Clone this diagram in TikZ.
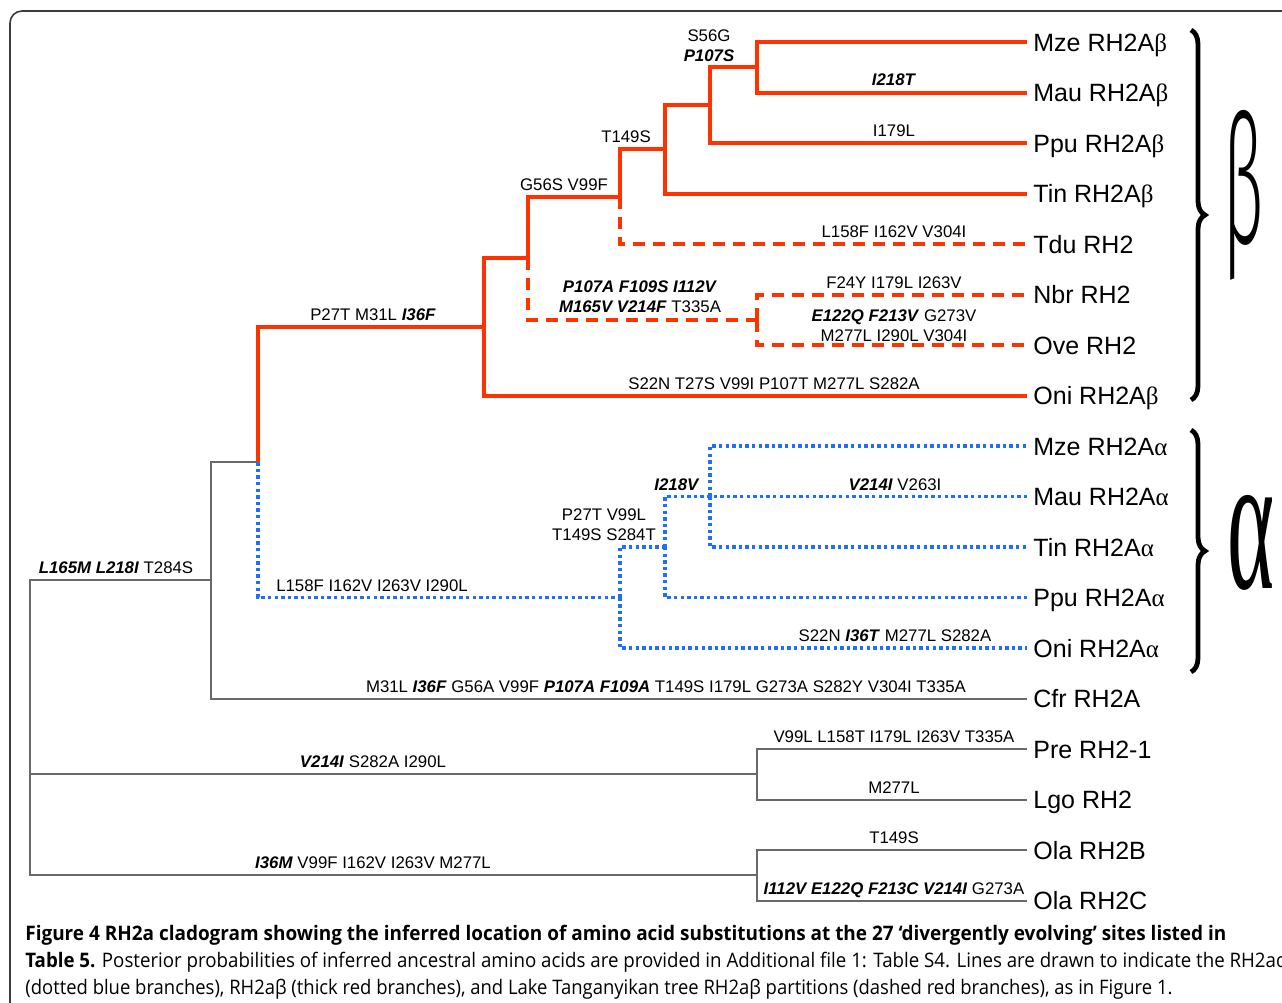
\documentclass[tikz,border=0pt]{standalone}
\usepackage{fontspec}
\setmainfont{Liberation Sans}
\newfontfamily\capfont{Open Sans}
\newfontfamily\grk{Liberation Serif}
\newfontfamily\thingrk[UprightFont=* Light]{Fira Sans}
\usepackage{graphicx}
\usetikzlibrary{decorations.pathreplacing}
\definecolor{redbr}{RGB}{255,51,0}
\definecolor{bluebr}{RGB}{30,110,255}
\definecolor{graybr}{RGB}{105,105,105}
\definecolor{framecol}{RGB}{60,60,60}
\newcommand\bim[1]{\textbf{\textit{#1}}}

\begin{document}
\begin{tikzpicture}[x=0.5pt, y=-0.5pt,
    betaline/.style={draw=redbr, line width=2pt},
    tduline/.style={draw=redbr, line width=2pt, dash pattern=on 6pt off 4pt},
    alphaline/.style={draw=bluebr, line width=1.8pt, dash pattern=on 1.7pt off 1.6pt},
    outline/.style={draw=graybr, line width=1pt},
    leaf/.style={anchor=west, inner sep=3pt, text height=9pt, text depth=0pt, font=\fontsize{12.5}{15}\selectfont},
    mut/.style={inner sep=0pt, text height=6pt, text depth=0pt, font=\fontsize{8.4}{10}\selectfont},
    grpbrace/.style={decorate, decoration={brace, amplitude=7pt}, line width=2.4pt},
    capline/.style={anchor=base west, inner sep=0pt, font=\capfont\fontsize{10}{12}\selectfont}]
  \useasboundingbox (0,0) rectangle (1282,1003);

  %%%%% frame %%%%%
  \draw[framecol, line width=0.8pt, rounded corners=6pt] (10,1010) -- (10,11) -- (1290,11);

  %%%%% leaves %%%%%
  \foreach \nm/\txt [count=\i from 0] in {mzeb/Mze RH2A{\grk β}, maub/Mau RH2A{\grk β}, ppub/Ppu RH2A{\grk β},
      tinb/Tin RH2A{\grk β}, tdu/Tdu RH2, nbr/Nbr RH2, ove/Ove RH2, onib/Oni RH2A{\grk β},
      mzea/Mze RH2A{\grk α}, maua/Mau RH2A{\grk α}, tina/Tin RH2A{\grk α}, ppua/Ppu RH2A{\grk α},
      onia/Oni RH2A{\grk α}, cfr/Cfr RH2A, pre/Pre RH2-1, lgo/Lgo RH2, olab/Ola RH2B, olac/Ola RH2C}
    \node[leaf] (\nm) at (1027,{42+50.5*\i}) {\txt};

  %%%%% internal nodes %%%%%
  \coordinate (nA) at (757,67.25);
  \coordinate (nB) at (710,105.1);
  \coordinate (nC) at (665,149.3);
  \coordinate (nD) at (620,196.7);
  \coordinate (nE) at (757,319.75);
  \coordinate (nF) at (528,258.2);
  \coordinate (nG) at (484,326.9);
  \coordinate (nH) at (258,462.2);
  \coordinate (nI) at (620,597.5);
  \coordinate (nJ) at (665,547);
  \coordinate (nK) at (710,496.5);
  \coordinate (nL) at (211,580.4);
  \coordinate (nM) at (757,774.25);
  \coordinate (nN) at (757,875.25);
  \coordinate (root) at (30,774.25);

  %%%%% RH2A beta %%%%%
  \draw[betaline] (nA) |- (mzeb);
  \draw[betaline] (nA) |- (maub);
  \draw[betaline] (nB) |- (nA);
  \draw[betaline] (nB) |- (ppub);
  \draw[betaline] (nC) |- (nB);
  \draw[betaline] (nC) |- (tinb);
  \draw[betaline] (nD) |- (nC);
  \draw[tduline] (nD) |- (tdu);
  \draw[tduline] (nE) |- (nbr);
  \draw[tduline] (nE) |- (ove);
  \draw[betaline] (nF) |- (nD);
  \draw[tduline] (nF) |- (nE);
  \draw[betaline] (nG) |- (nF);
  \draw[betaline] (nG) |- (onib);
  \draw[betaline] (nH) |- (nG);

  %%%%% RH2A alpha %%%%%
  \draw[alphaline] (nH) |- (nI);
  \draw[alphaline] (nI) |- (nJ);
  \draw[alphaline] (nI) |- (onia);
  \draw[alphaline] (nJ) |- (maua);
  \draw[alphaline] (nJ) |- (ppua);
  \draw[alphaline] (nK) |- (mzea);
  \draw[alphaline] (nK) |- (tina);

  %%%%% outgroups %%%%%
  \draw[outline] (nL) |- (nH);
  \draw[outline] (nL) |- (cfr);
  \draw[outline] (root) |- (nL);
  \draw[outline] (root) -- (nM);
  \draw[outline] (root) |- (nN);
  \draw[outline] (nM) |- (pre);
  \draw[outline] (nM) |- (lgo);
  \draw[outline] (nN) |- (olab);
  \draw[outline] (nN) |- (olac);

  %%%%% substitutions %%%%%
  \node[mut] (mS56G) at (709,35) {S56G};
  \node[mut] (mP107S) at (709,55) {\bim{P107S}};
  \node[mut] (mI218T) at (894,79) {\bim{I218T}};
  \node[mut] (mI179L) at (894,130) {I179L};
  \node[mut] (mT149S) at (626,136) {T149S};
  \node[mut] (mG56S) at (564,184) {G56S V99F};
  \node[mut] (mL158F) at (894,231) {L158F I162V V304I};
  \node[mut] (mP107A) at (640,286) {\bim{P107A F109S I112V}};
  \node[mut] (mM165V) at (640,306) {\bim{M165V V214F} T335A};
  \node[mut] (mF24Y) at (894,282) {F24Y I179L I263V};
  \node[mut] (mE122Q) at (894,315) {\bim{E122Q F213V} G273V};
  \node[mut] (mM277L) at (894,335) {M277L I290L V304I};
  \node[mut] (mP27T) at (373,314) {P27T M31L \bim{I36F}};
  \node[mut] (mS22N) at (774,383) {S22N T27S V99I P107T M277L S282A};
  \node[mut] (mI218V) at (677,484) {\bim{I218V}};
  \node[mut] (mV214I) at (895,484) {\bim{V214I} V263I};
  \node[mut] (mP27Tb) at (604,514) {P27T V99L};
  \node[mut] (mT149Sb) at (604,534) {T149S S284T};
  \node[mut] (mL158Fb) at (372,585) {L158F I162V I263V I290L};
  \node[mut] (mS22Nb) at (895,635) {S22N \bim{I36T} M277L S282A};
  \node[mut] (mM31L) at (666,686) {M31L \bim{I36F} G56A V99F \bim{P107A F109A} T149S I179L G273A S282Y V304I T335A};
  \node[mut] (mV99L) at (894,736) {V99L L158T I179L I263V T335A};
  \node[mut] (mM277Lb) at (894,787) {M277L};
  \node[mut] (mT149Sc) at (894,837) {T149S};
  \node[mut] (mI112V) at (894,888) {\bim{I112V E122Q F213C V214I} G273A};
  \node[mut] (mV214Ib) at (373,761) {\bim{V214I} S282A I290L};
  \node[mut] (mI36M) at (373,862) {\bim{I36M} V99F I162V I263V M277L};
  \node[mut] (mL165M) at (116,567) {\bim{L165M L218I} T284S};

  %%%%% groups %%%%%
  \draw[grpbrace] (1191,30) -- (1191,400);
  \node (bigbeta) at (1243,195) {\resizebox*{20pt}{85pt}{\thingrk β}};
  \draw[grpbrace] (1191,430) -- (1191,672);
  \node (bigalpha) at (1251,543) {\resizebox*{23.5pt}{47.5pt}{\grk α}};

  %%%%% caption %%%%%
  \node[capline] (cap1) at (25,940) {\resizebox{600.5pt}{\height}{\bfseries Figure 4 RH2a cladogram showing the inferred location of amino acid substitutions at the 27 ‘divergently evolving’ sites listed in}};
  \node[capline] (cap2) at (25,967) {\resizebox{631pt}{\height}{\textbf{Table 5.} Posterior probabilities of inferred ancestral amino acids are provided in Additional file 1: Table S4. Lines are drawn to indicate the RH2aα}};
  \node[capline] (cap3) at (25,994) {\resizebox{573.5pt}{\height}{(dotted blue branches), RH2aβ (thick red branches), and Lake Tanganyikan tree RH2aβ partitions (dashed red branches), as in Figure 1.}};
\end{tikzpicture}
\end{document}
